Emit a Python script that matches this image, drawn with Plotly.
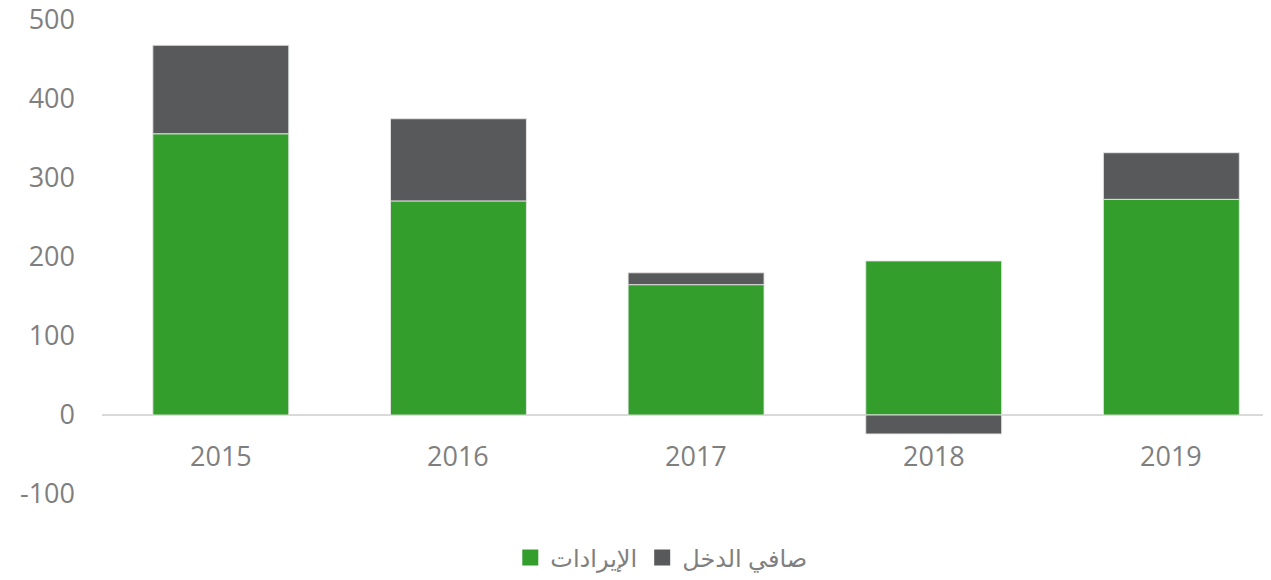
import plotly.graph_objects as go

years = ["2015", "2016", "2017", "2018", "2019"]
revenue = [356, 271, 165, 195, 273]
net_income = [112, 104, 15, -24, 59]
revenue_name = "الإيرادات"
net_income_name = "صافي الدخل"
y_ticks = [-100, 0, 100, 200, 300, 400, 500]
y_tick_text = ["-100", "0", "100", "200", "300", "400", "500"]

GREEN = "#339e2c"
GRAY = "#58595b"
TEXT = "#7f7f7f"
EDGE = "rgba(230,230,230,0.9)"

fig = go.Figure()
fig.add_trace(go.Bar(x=years, y=revenue, name=revenue_name, showlegend=False,
                     marker=dict(color=GREEN, line=dict(color=EDGE, width=1))))
fig.add_trace(go.Bar(x=years, y=net_income, name=net_income_name, showlegend=False,
                     marker=dict(color=GRAY, line=dict(color=EDGE, width=1))))
# legend entries with larger square markers
fig.add_trace(go.Scatter(x=[years[0]], y=[None], mode="markers", name=revenue_name,
                         marker=dict(symbol="square", size=16, color=GREEN)))
fig.add_trace(go.Scatter(x=[years[0]], y=[None], mode="markers", name=net_income_name,
                         marker=dict(symbol="square", size=16, color=GRAY)))

# category labels sitting under the zero line
for i, yr in enumerate(years):
    fig.add_annotation(x=i, y=0, xref="x", yref="y", text=yr, showarrow=False,
                       yanchor="top", yshift=-20, font=dict(size=27, color=TEXT))

fig.update_layout(
    width=1271, height=580, autosize=False,
    barmode="relative", bargap=0.428,
    plot_bgcolor="white", paper_bgcolor="white",
    margin=dict(l=94, r=0, t=12, b=94, autoexpand=False),
    font=dict(family="Open Sans, DejaVu Sans", color=TEXT, size=27),
    legend=dict(orientation="h", xanchor="center", x=0.514, xref="container",
                yref="container", yanchor="middle", y=0.052,
                font=dict(size=24, color=TEXT), traceorder="normal"),
    showlegend=True,
)
fig.update_xaxes(type="category", categoryarray=years, range=[-0.5, 4.453], showline=False, showgrid=False,
                 ticks="", showticklabels=False, zeroline=False, automargin=False)
fig.update_yaxes(range=[-100, 500], tickvals=y_ticks, ticktext=y_tick_text, showgrid=False,
                 zeroline=True, zerolinecolor="#d9d9d9", zerolinewidth=2, showline=False,
                 ticks="", ticklabelstandoff=26, automargin=False, ticklabeloverflow="allow")

fig.write_html("out.html")
